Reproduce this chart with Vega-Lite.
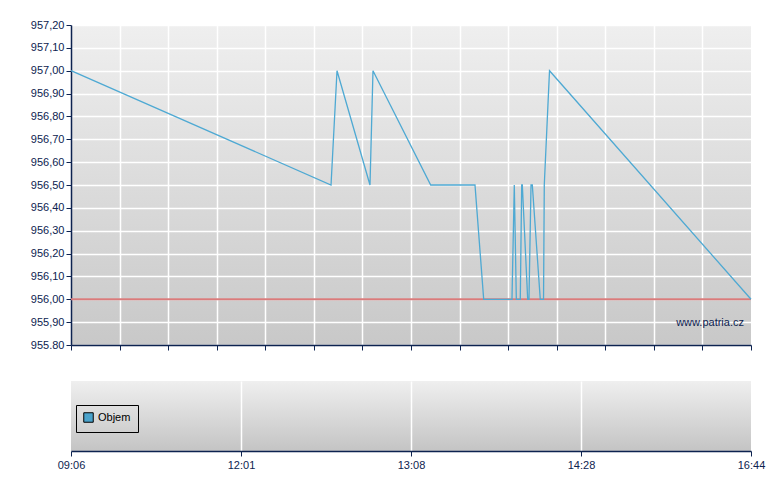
{
  "$schema": "https://vega.github.io/schema/vega-lite/v6.json",
  "padding": {"left": 30, "top": 19, "right": 5, "bottom": 5},
  "background": "white",
  "spacing": 30,
  "config": {
    "view": {"stroke": null},
    "font": "Liberation Sans",
    "axis": {
      "labelFont": "Liberation Sans",
      "labelFontSize": 11,
      "labelColor": "#0d2350",
      "domainColor": "#0d2350",
      "tickColor": "#0d2350",
      "gridColor": "#ffffff",
      "gridWidth": 1.5,
      "gridOpacity": 1,
      "labelOverlap": false,
      "title": null
    }
  },
  "datasets": {
    "price": [
      {"pos": 0, "price": 957.0},
      {"pos": 38.24, "price": 956.5},
      {"pos": 39.12, "price": 957.0},
      {"pos": 43.97, "price": 956.5},
      {"pos": 44.41, "price": 957.0},
      {"pos": 52.9, "price": 956.5},
      {"pos": 59.41, "price": 956.5},
      {"pos": 60.69, "price": 956.0},
      {"pos": 64.85, "price": 956.0},
      {"pos": 65.19, "price": 956.5},
      {"pos": 65.49, "price": 956.0},
      {"pos": 66.07, "price": 956.0},
      {"pos": 66.28, "price": 956.5},
      {"pos": 66.37, "price": 956.5},
      {"pos": 67.16, "price": 956.0},
      {"pos": 67.35, "price": 956.0},
      {"pos": 67.65, "price": 956.5},
      {"pos": 67.84, "price": 956.5},
      {"pos": 69.01, "price": 956.0},
      {"pos": 69.49, "price": 956.0},
      {"pos": 69.6, "price": 956.5},
      {"pos": 70.37, "price": 957.0},
      {"pos": 100, "price": 956.0}
    ],
    "reference": [
      {"pos": 0, "price": 956.0},
      {"pos": 100, "price": 956.0}
    ],
    "volume": [
      {"pos": 0, "volume": 0, "series": "Objem"},
      {"pos": 100, "volume": 0, "series": "Objem"}
    ],
    "marks": [
      {"label": "www.patria.cz", "pos": 98.97, "price": 955.896}
    ]
  },
  "vconcat": [
    {
      "width": 680,
      "height": 320,
      "view": {
        "fill": {
          "gradient": "linear", "x1": 0, "y1": 0, "x2": 0, "y2": 1,
          "stops": [{"offset": 0, "color": "#efefef"}, {"offset": 1, "color": "#c8c8c8"}]
        }
      },
      "encoding": {
        "x": {
          "field": "pos", "type": "quantitative",
          "scale": {"domain": [0, 100], "nice": false, "zero": false},
          "axis": {
            "values": [0, 7.142857, 14.285714, 21.428571, 28.571429, 35.714286, 42.857143, 50, 57.142857, 64.285714, 71.428571, 78.571429, 85.714286, 92.857143, 100],
            "labels": false, "ticks": true, "tickSize": 5, "domain": true, "domainWidth": 1.5,
            "grid": true,
            "gridOpacity": {"condition": {"test": "datum.value == 0 || datum.value == 100", "value": 0}, "value": 1}
          }
        },
        "y": {
          "field": "price", "type": "quantitative",
          "scale": {"domain": [955.8, 957.2], "nice": false, "zero": false},
          "axis": {
            "values": [955.8, 955.9, 956.0, 956.1, 956.2, 956.3, 956.4, 956.5, 956.6, 956.7, 956.8, 956.9, 957.0, 957.1, 957.2],
            "labelExpr": "datum.value < 955.85 ? format(datum.value, '.2f') : replace(format(datum.value, '.2f'), '.', ',')",
            "labelOverlap": false,
            "tickSize": 5, "labelPadding": 2, "grid": true, "domainWidth": 1.5,
            "minExtent": 40, "maxExtent": 40
          }
        }
      },
      "layer": [
        {
          "data": {"name": "reference"},
          "mark": {"type": "line", "color": "#d97b7b", "strokeWidth": 2}
        },
        {
          "data": {"name": "price"},
          "mark": {"type": "line", "color": "#4ea9d3", "strokeWidth": 1.3, "interpolate": "linear"}
        },
        {
          "data": {"name": "marks"},
          "mark": {"type": "text", "align": "right", "baseline": "middle", "fontSize": 11, "color": "#0d2350", "font": "Liberation Sans"},
          "encoding": {
            "text": {"field": "label"}
          }
        }
      ]
    },
    {
      "width": 680,
      "height": 70,
      "view": {
        "fill": {
          "gradient": "linear", "x1": 0, "y1": 0, "x2": 0, "y2": 1,
          "stops": [{"offset": 0, "color": "#efefef"}, {"offset": 1, "color": "#c4c4c4"}]
        }
      },
      "data": {"name": "volume"},
      "mark": {"type": "bar", "width": 2},
      "encoding": {
        "x": {
          "field": "pos", "type": "quantitative",
          "scale": {"domain": [0, 100], "nice": false, "zero": false, "padding": 0},
          "axis": {
            "values": [0, 25, 50, 75, 100],
            "labelExpr": "datum.value == 0 ? '09:06' : datum.value == 25 ? '12:01' : datum.value == 50 ? '13:08' : datum.value == 75 ? '14:28' : '16:44'",
            "labelOverlap": false,
            "tickSize": 5, "labelPadding": 3, "labelFlush": false, "domainWidth": 1.5,
            "grid": true,
            "gridOpacity": {"condition": {"test": "datum.value == 0 || datum.value == 100", "value": 0}, "value": 1}
          }
        },
        "y": {
          "field": "volume", "type": "quantitative",
          "scale": {"domain": [0, 1]},
          "axis": {"labels": false, "ticks": false, "domain": false, "grid": false, "minExtent": 40, "maxExtent": 40}
        },
        "color": {
          "field": "series", "type": "nominal",
          "scale": {"range": ["#4aa3cc"]},
          "legend": {
            "title": null,
            "orient": "none",
            "legendX": 5,
            "legendY": 380,
            "symbolType": "square",
            "symbolSize": 90,
            "symbolStrokeColor": "#000000",
            "symbolStrokeWidth": 1,
            "symbolFillColor": "#4aa3cc",
            "labelFont": "Liberation Sans",
            "labelFontSize": 11,
            "labelColor": "#000000",
            "strokeColor": "#000000",
            "padding": 7,
            "labelOffset": 4
          }
        }
      }
    }
  ]
}
